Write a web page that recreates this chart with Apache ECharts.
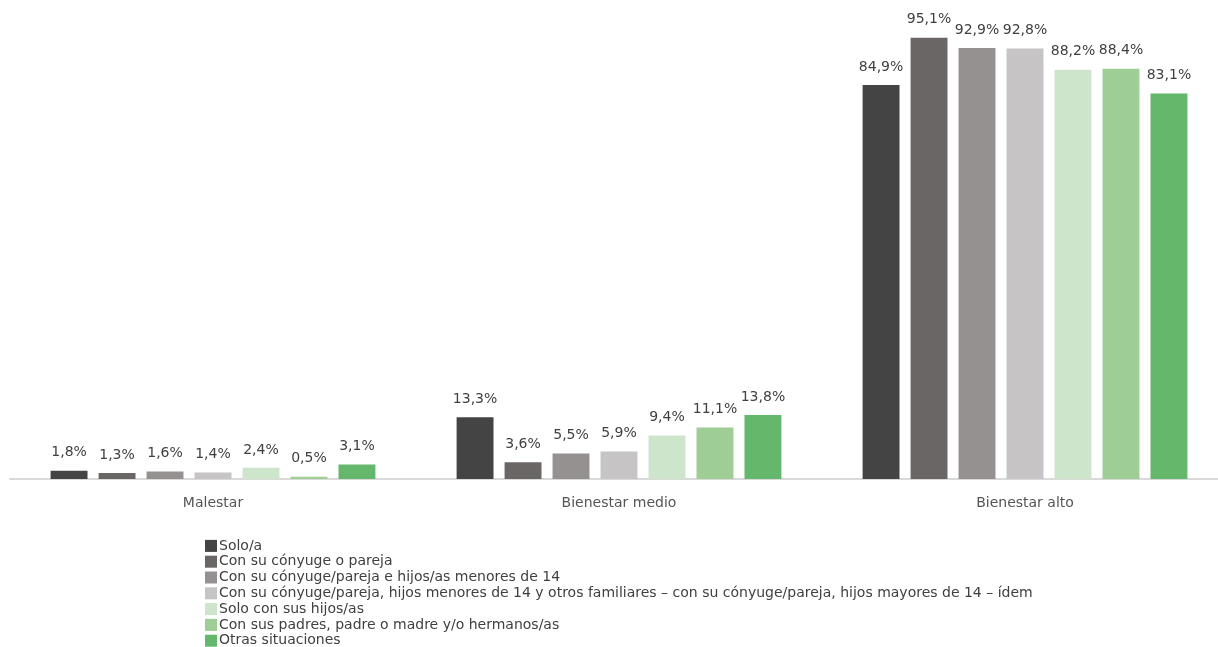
<!DOCTYPE html>
<html>
<head>
  <meta charset="utf-8">
  <title>Bienestar según convivencia</title>
  <script src="https://cdn.jsdelivr.net/npm/echarts@6/dist/echarts.min.js"></script>
  <style>
    html, body { margin: 0; padding: 0; background: #fff; overflow: hidden; }
    #chart { width: 1240px; height: 647px; }
  </style>
</head>
<body>
<div id="chart"></div>
<script>
  var categories = ['Malestar', 'Bienestar medio', 'Bienestar alto'];
  var seriesNames = [
    'Solo/a',
    'Con su cónyuge o pareja',
    'Con su cónyuge/pareja e hijos/as menores de 14',
    'Con su cónyuge/pareja, hijos menores de 14 y otros familiares – con su cónyuge/pareja, hijos mayores de 14 – ídem',
    'Solo con sus hijos/as',
    'Con sus padres, padre o madre y/o hermanos/as',
    'Otras situaciones'
  ];
  var soloA = [1.8, 13.3, 84.9];
  var conPareja = [1.3, 3.6, 95.1];
  var parejaHijosMenores = [1.6, 5.5, 92.9];
  var parejaHijosFamiliares = [1.4, 5.9, 92.8];
  var soloHijos = [2.4, 9.4, 88.2];
  var conPadres = [0.5, 11.1, 88.4];
  var otras = [3.1, 13.8, 83.1];
  var colors = ['#444444', '#6a6665', '#959190', '#c6c4c4', '#cde5cb', '#9ecd95', '#65b76b'];

  var allValues = [soloA, conPareja, parejaHijosMenores, parejaHijosFamiliares, soloHijos, conPadres, otras];
  var font = 'DejaVu Sans';

  var chart = echarts.init(document.getElementById('chart'));
  var series = allValues.map(function (vals, i) {
    return {
      name: seriesNames[i],
      type: 'bar',
      data: vals,
      barGap: '30%',
      barCategoryGap: '20%',
      itemStyle: { color: colors[i] },
      label: {
        show: true,
        position: 'top',
        distance: 11,
        color: '#404040',
        fontSize: 14,
        fontFamily: font,
        formatter: function (p) {
          return p.value.toFixed(1).replace('.', ',') + '%';
        }
      }
    };
  });

  chart.setOption({
    animation: false,
    color: colors,
    grid: { left: 10, right: 12, top: 15, bottom: 168, containLabel: false },
    legend: {
      orient: 'vertical',
      left: 200,
      top: 533,
      height: 120,
      itemWidth: 12,
      itemHeight: 12,
      itemGap: 0,
      icon: 'rect',
      textStyle: { fontSize: 14, color: '#404040', fontFamily: font, lineHeight: 15.8, padding: [0, 0, 0, -3] },
      data: seriesNames
    },
    xAxis: {
      type: 'category',
      data: categories,
      axisLine: { lineStyle: { color: '#d9d9d9', width: 2 } },
      axisTick: { show: false },
      axisLabel: { color: '#555555', fontSize: 14, fontFamily: font, margin: 17 }
    },
    yAxis: {
      type: 'value',
      min: 0,
      max: 100,
      show: false,
      splitLine: { show: false }
    },
    series: series
  });
</script>
</body>
</html>
